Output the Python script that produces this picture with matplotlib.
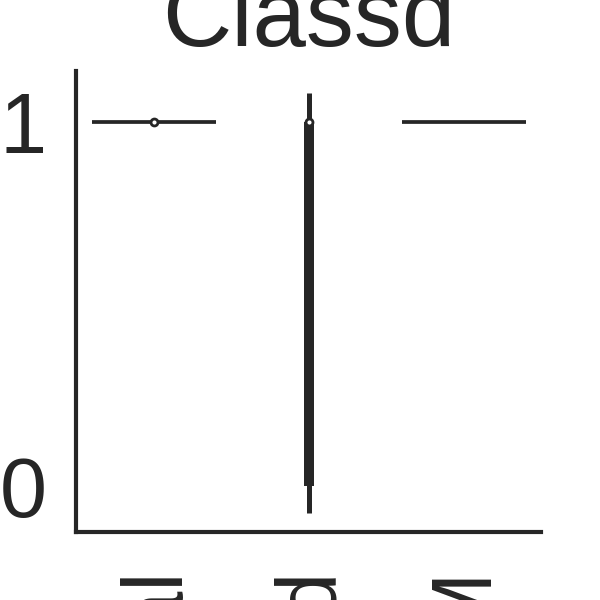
import matplotlib
matplotlib.use("Agg")
import matplotlib.pyplot as plt

plt.rcParams['font.family'] = ['Liberation Sans', 'DejaVu Sans']

# data
title = "Classd"
categories = ["Normal", "Mixed", "PM"]
single_values = [1, None, 1]          # groups that hold only one value
single_median = [1, None, None]       # median dot drawn on the first group
mid_violin = [-0.075, 1.08]           # extent of the (very thin) middle violin
mid_box = [0, 1]                      # quartiles of the middle group
mid_median = 1
yticks = [0, 1]

dark = "#262626"

fig = plt.figure(figsize=(6, 6), dpi=100)
ax = fig.add_axes([76 / 600, 1 - 531.5 / 600, 465 / 600, 460.5 / 600])

# single-valued groups: a flat line across the violin width
for i, v in enumerate(single_values):
    if v is not None:
        ax.hlines(v, i - 0.4, i + 0.4, color=dark, lw=2.7, zorder=2)
for i, m in enumerate(single_median):
    if m is not None:
        ax.plot(i, m, 'o', mfc='white', mec=dark, ms=5, mew=2, zorder=4)

# middle group: thin violin, thick box, median dot
ax.vlines(1, mid_violin[0], mid_violin[1], color=dark, lw=3.6, zorder=2)
ax.vlines(1, mid_box[0], mid_box[1], color=dark, lw=7.2, zorder=3)
ax.plot(1, mid_median, 'o', mfc='white', mec=dark, ms=5, mew=2, zorder=4)

ax.set_xlim(-0.5, 2.5)
ax.set_ylim(-0.125, 1.14)
ax.set_xticks(range(len(categories)))
ax.set_xticklabels(categories, rotation=90)
ax.set_yticks(yticks)
ax.set_yticklabels([str(t) for t in yticks])
ax.tick_params(axis='both', length=0, labelsize=61, colors=dark)
ax.tick_params(axis='y', pad=21)
ax.tick_params(axis='x', pad=24)

for s in ['top', 'right']:
    ax.spines[s].set_visible(False)
for s in ['left', 'bottom']:
    ax.spines[s].set_linewidth(3)
    ax.spines[s].set_color(dark)

ax.set_title(title, fontsize=69, color=dark, pad=18)

fig.savefig("out.png", dpi=100)
